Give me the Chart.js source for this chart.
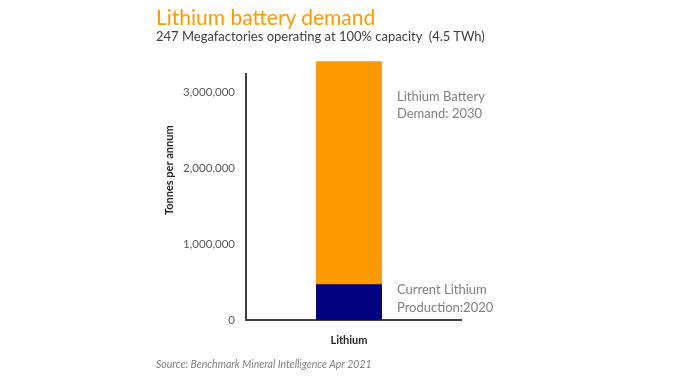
<!DOCTYPE html>
<html>
<head>
<meta charset="utf-8">
<script src="https://cdn.jsdelivr.net/npm/chart.js@4"></script>
<style>
  html, body { margin: 0; padding: 0; background: #fff; }
  #wrap { position: relative; width: 696px; height: 385px; overflow: hidden; }
  canvas { position: absolute; left: 0; top: 0; }
  .t { position: absolute; white-space: nowrap; font-family: Lato, "Open Sans", sans-serif; }
  #title { left: 156px; top: 4px; font-size: 21px; color: #FF9900; }
  #subtitle { left: 156px; top: 28px; font-size: 13px; color: #404040; }
  #source { left: 156px; top: 358px; font-size: 10.5px; color: #7f7f7f; font-style: italic; }
</style>
</head>
<body>
<div id="wrap">
  <canvas id="c" width="696" height="385"></canvas>
  <div class="t" id="title">Lithium battery demand</div>
  <div class="t" id="subtitle">247 Megafactories operating at 100% capacity&nbsp;&nbsp;(4.5 TWh)</div>
  <div class="t" id="source">Source: Benchmark Mineral Intelligence Apr 2021</div>
</div>
<script>
const categories = ["Lithium"];
const currentProduction2020 = [470000];
const batteryDemand2030 = [3410000];
const seriesNames = [["Current Lithium", "Production:2020"], ["Lithium Battery", "Demand: 2030"]];
const yTickValues = [0, 1000000, 2000000, 3000000];
const yAxisTitle = "Tonnes per annum";

const FONT = "Lato, 'Open Sans', sans-serif";

const labelPlugin = {
  id: 'seriesLabels',
  afterDatasetsDraw(chart) {
    const ctx = chart.ctx;
    const y = chart.scales.y;
    const area = chart.chartArea;
    const meta0 = chart.getDatasetMeta(0).data[0];
    const xRight = meta0.x + meta0.width / 2 + 15;
    ctx.save();
    // extend the x-axis baseline a little past the plot area, as in the original
    const baseY = Math.round(y.getPixelForValue(0));
    ctx.strokeStyle = '#404040';
    ctx.lineWidth = 2;
    ctx.lineCap = 'butt';
    ctx.beginPath();
    ctx.moveTo(Math.round(area.right) - 2, baseY);
    ctx.lineTo(Math.round(area.right) + 10, baseY);
    ctx.stroke();

    ctx.font = "13px " + FONT;
    ctx.fillStyle = "#7f7f7f";
    ctx.textAlign = "left";
    ctx.textBaseline = "middle";
    const pY = y.getPixelForValue(currentProduction2020[0]);
    ctx.fillText(seriesNames[0][0], xRight, pY + 5.5);
    ctx.fillText(seriesNames[0][1], xRight, pY + 23);
    const dY = y.getPixelForValue(batteryDemand2030[0]);
    ctx.fillText(seriesNames[1][0], xRight, dY + 36);
    ctx.fillText(seriesNames[1][1], xRight, dY + 52.5);

    // y-axis title
    ctx.translate(area.left - 77, y.getPixelForValue(2000000) + 2);
    ctx.rotate(-Math.PI / 2);
    ctx.textAlign = 'center';
    ctx.font = "bold 11px " + FONT;
    ctx.fillStyle = '#262626';
    ctx.fillText(yAxisTitle, 0, 0);
    ctx.restore();
  }
};

new Chart(document.getElementById('c'), {
  type: 'bar',
  data: {
    labels: categories,
    datasets: [
      { label: seriesNames[0].join(' '), data: currentProduction2020, backgroundColor: '#000080',
        categoryPercentage: 1, barPercentage: 0.32, clip: false },
      { label: seriesNames[1].join(' '), data: batteryDemand2030, backgroundColor: '#FF9900',
        categoryPercentage: 1, barPercentage: 0.32, clip: false }
    ]
  },
  options: {
    responsive: false,
    animation: false,
    events: [],
    layout: { padding: { left: 150, right: 244, top: 74, bottom: 35 } },
    plugins: { legend: { display: false }, tooltip: { enabled: false }, title: { display: false } },
    scales: {
      x: {
        stacked: true,
        grid: { display: false, drawTicks: false },
        border: { display: true, color: '#404040', width: 2 },
        ticks: { padding: 14, color: '#262626', font: { family: FONT, size: 11, weight: 'bold' } },
        afterFit(s) { s.height = 30; }
      },
      y: {
        stacked: false,
        min: 0,
        max: 3242000,
        grid: { display: false, drawTicks: false },
        border: { display: true, color: '#404040', width: 2 },
        afterBuildTicks(s) { s.ticks = yTickValues.map(v => ({ value: v })); },
        ticks: {
          padding: 11,
          color: '#595959',
          font: { family: FONT, size: 11.5 },
          callback: v => Number(v).toLocaleString('en-US')
        },
        title: { display: false },
        afterFit(s) { s.width = 96; }
      }
    }
  },
  plugins: [labelPlugin]
});
</script>
</body>
</html>
